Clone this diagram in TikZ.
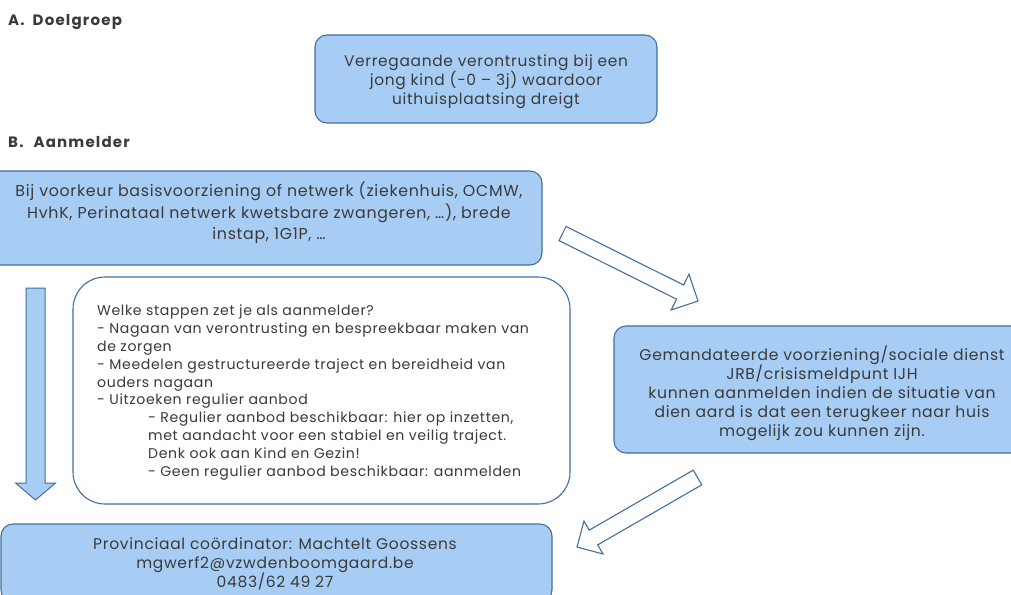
\documentclass[tikz,border=0pt]{standalone}
\usepackage{fontspec}
\setmainfont{Poppins}[LetterSpace=4.5]
\usetikzlibrary{calc}
\definecolor{boxfill}{RGB}{168,205,244}
\definecolor{boxline}{RGB}{66,112,158}
\definecolor{txt}{RGB}{58,58,58}
\newcommand{\blockarrow}[6]{% style, tail, tip, shaft half width, head half width, head length
  \coordinate (#2-base) at ($(#3)!#6!(#2)$);
  \draw[#1] ($(#2)!#4!90:(#3)$) -- ($(#2-base)!#4!90:(#3)$) -- ($(#2-base)!#5!90:(#3)$)
    -- (#3) -- ($(#2-base)!#5!-90:(#3)$) -- ($(#2-base)!#4!-90:(#3)$) -- ($(#2)!#4!-90:(#3)$) -- cycle;
}
\begin{document}
\begin{tikzpicture}[x=1pt,y=-1pt,
  bluebox/.style={draw=boxline, fill=boxfill, line width=1.1pt, rounded corners=12pt, inner sep=0pt},
  whitebox/.style={draw=boxline, fill=white, line width=1.1pt, rounded corners=32pt, inner sep=0pt},
  ctext/.style 2 args={text=txt, align=center, inner sep=0pt, font=\fontsize{#1}{#2}\selectfont},
  ltext/.style={text=txt, align=left, inner sep=0pt, font=\fontsize{14.1pt}{17.8pt}\selectfont},
  heading/.style={text=txt, anchor=west, inner sep=0pt, font=\bfseries\fontsize{15pt}{16pt}\selectfont\addfontfeature{LetterSpace=8}},
  hollowarrow/.style={draw=boxline, fill=white, line width=1.1pt, line join=miter},
  filledarrow/.style={draw=boxline, fill=boxfill, line width=1pt, line join=miter}]
\useasboundingbox (0,0) rectangle (1011,594);
\fill[white] (0,0) rectangle (1011,594);

% headings
\node[heading] (hA) at (8,22) {A.\hspace{8pt}Doelgroep};
\node[heading] (hB) at (8,142) {B.\hspace{10pt}Aanmelder};

% boxes
\node[bluebox, minimum width=342pt, minimum height=88pt] (doel) at (486,79) {};
\node[ctext={15.4pt}{18.5pt}] (doelt) at (486,81.5) {Verregaande verontrusting bij een\\jong kind (-0 -- 3j) waardoor\\uithuisplaatsing dreigt};

\node[bluebox, minimum width=562pt, minimum height=94pt] (aanm) at (261,218) {};
\node[ctext={15.8pt}{21.5pt}] (aanmt) at (269,213) {Bij voorkeur basisvoorziening of netwerk (ziekenhuis, OCMW,\\HvhK, Perinataal netwerk kwetsbare zwangeren, \dots), brede\\instap, 1G1P, \dots};

\node[whitebox, minimum width=497pt, minimum height=227pt] (stap) at (321.5,390.5) {};
\node[ltext, anchor=north west] (stapt) at (97,305) {Welke stappen zet je als aanmelder?\\
- Nagaan van verontrusting en bespreekbaar maken van\\
de zorgen\\
- Meedelen gestructureerde traject en bereidheid van\\
ouders nagaan\\
- Uitzoeken regulier aanbod\\
\hspace*{51pt}- Regulier aanbod beschikbaar: hier op inzetten,\\
\hspace*{51pt}met aandacht voor een stabiel en veilig traject.\\
\hspace*{51pt}Denk ook aan Kind en Gezin!\\
\hspace*{51pt}- Geen regulier aanbod beschikbaar: aanmelden};

\node[bluebox, minimum width=416pt, minimum height=127pt] (mand) at (822,389.5) {};
\node[ctext={15.6pt}{19pt}] (mandt) at (822,393) {Gemandateerde voorziening/sociale dienst\\JRB/crisismeldpunt IJH\\kunnen aanmelden indien de situatie van\\dien aard is dat een terugkeer naar huis\\mogelijk zou kunnen zijn.};

\node[bluebox, minimum width=551pt, minimum height=78pt] (coord) at (276.5,563) {};
\node[ctext={15.5pt}{19pt}] (coordt) at (275,564) {Provinciaal coördinator: Machtelt Goossens\\mgwerf2@vzwdenboomgaard.be\\0483/62 49 27};

% block arrows
\coordinate (a1t) at (562.5,233.5);
\coordinate (a1h) at (698,301);
\blockarrow{hollowarrow}{a1t}{a1h}{7.9pt}{20pt}{20pt}

\coordinate (a2t) at (697.5,477.5);
\coordinate (a2h) at (577,547);
\blockarrow{hollowarrow}{a2t}{a2h}{8.5pt}{19pt}{19pt}

\coordinate (a3t) at (35.5,288);
\coordinate (a3h) at (35.5,500);
\blockarrow{filledarrow}{a3t}{a3h}{9.5pt}{20pt}{17pt}
\end{tikzpicture}
\end{document}
